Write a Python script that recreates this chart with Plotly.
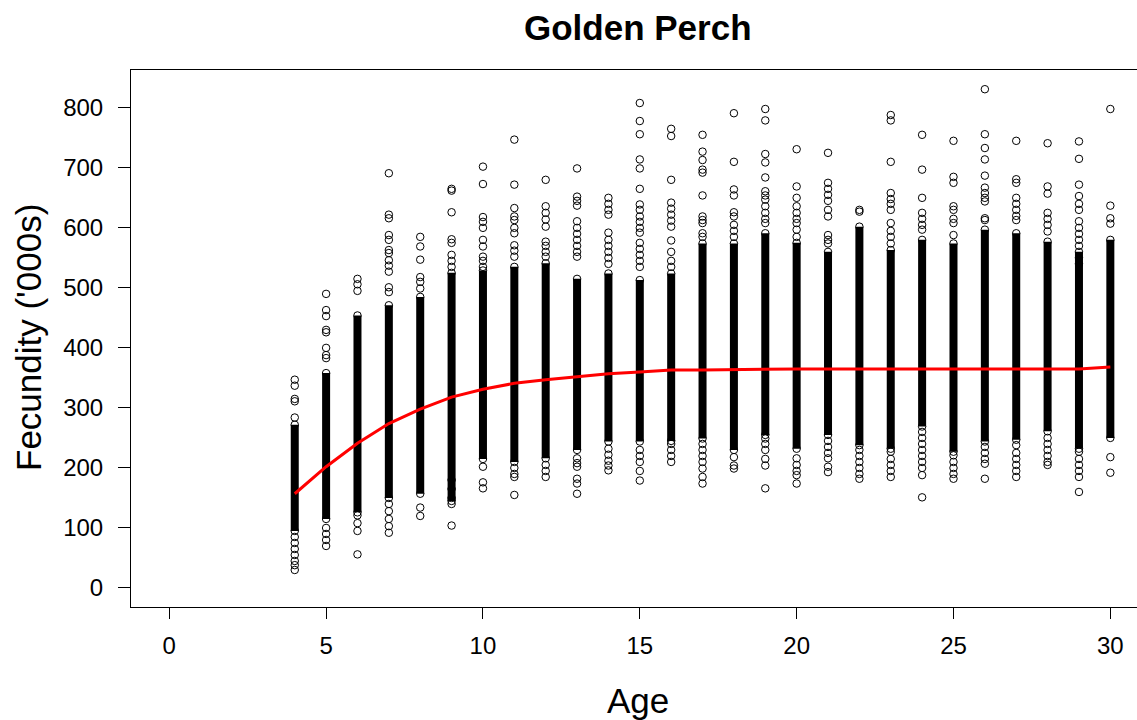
import plotly.graph_objects as go

ages = list(range(4, 31))

# dense (solid) part of each age column, fecundity ('000s)
band_lo = [95, 115, 126, 150, 157, 145, 215, 210, 216, 230, 244, 244, 245, 249,
           230, 255, 232, 255, 238, 232, 269, 227, 244, 247, 261, 232, 250]
band_hi = [272, 358, 454, 471, 485, 525, 529, 535, 541, 515, 524, 513, 524, 574,
           574, 591, 575, 560, 602, 563, 580, 574, 597, 591, 577, 560, 580]

# individually visible points for each age
points = {
    4: [347, 337, 315, 311, 284, 85, 75, 65, 55, 45, 38, 30],
    5: [490, 463, 453, 430, 426, 400, 388, 383, 100, 90, 80, 70],
    6: [515, 506, 495, 121, 108, 95, 56],
    7: [691, 622, 616, 588, 580, 563, 558, 546, 537, 527, 501, 493, 140, 128, 115, 103, 92],
    8: [585, 569, 547, 518, 510, 499, 134, 120],
    9: [665, 662, 626, 581, 575, 555, 545, 535, 180, 165, 150, 140, 104],
    10: [702, 673, 618, 610, 600, 580, 569, 552, 545, 535, 202, 176, 166],
    11: [747, 672, 633, 619, 613, 600, 591, 571, 562, 552, 200, 190, 185, 155],
    12: [680, 636, 625, 614, 602, 577, 570, 560, 552, 205, 195, 185],
    13: [699, 652, 645, 637, 611, 600, 590, 580, 570, 560, 552, 216, 208, 202, 182, 174, 157],
    14: [650, 640, 630, 622, 592, 580, 570, 560, 550, 540, 232, 222, 212, 204, 196],
    15: [808, 778, 756, 714, 699, 665, 639, 630, 619, 610, 600, 592, 575, 565, 555, 545, 535,
         230, 220, 210, 195, 179],
    16: [765, 753, 680, 642, 632, 622, 612, 602, 579, 560, 545, 535, 240, 230, 220, 210],
    17: [755, 727, 713, 697, 692, 654, 619, 613, 608, 591, 585, 240, 230, 220, 210, 199, 185, 174],
    18: [791, 710, 664, 654, 626, 619, 605, 595, 585, 218, 204, 199],
    19: [798, 779, 723, 709, 684, 661, 654, 647, 636, 625, 615, 608, 249, 240, 230, 215, 204, 166],
    20: [731, 669, 650, 636, 625, 615, 608, 597, 585, 216, 205, 195, 188, 174],
    21: [725, 675, 665, 655, 645, 630, 619, 588, 580, 574, 245, 235, 225, 216, 202, 193],
    22: [630, 627, 230, 220, 210, 200, 190, 182],
    23: [788, 779, 710, 658, 648, 640, 630, 608, 595, 585, 574, 227, 215, 205, 195, 185],
    24: [755, 697, 650, 625, 615, 605, 597, 260, 250, 240, 230, 220, 210, 200, 188, 151],
    25: [745, 685, 675, 636, 630, 615, 608, 588, 221, 210, 200, 190, 182],
    26: [831, 756, 733, 714, 687, 667, 658, 650, 644, 616, 613, 235, 225, 215, 207, 182],
    27: [745, 681, 675, 650, 640, 630, 620, 613, 238, 225, 215, 205, 195, 185],
    28: [741, 669, 657, 625, 615, 605, 594, 250, 240, 230, 220, 210, 205],
    29: [744, 715, 672, 653, 640, 630, 611, 600, 590, 580, 570, 550, 540, 227, 215, 205, 195, 185, 160],
    30: [798, 637, 616, 607, 218, 192],
}

# fitted mean fecundity curve
fit_ages = ages
fit_vals = [157, 202, 241, 274, 298, 318, 331, 341, 347, 352, 357, 360, 363, 363,
            364, 365, 365, 365, 365, 365, 365, 365, 365, 365, 365, 365, 368]

x_ticks = [0, 5, 10, 15, 20, 25, 30]
y_ticks = [0, 100, 200, 300, 400, 500, 600, 700, 800]

# build traces
bx, by = [], []
for a, lo, hi in zip(ages, band_lo, band_hi):
    bx += [a, a, None]
    by += [lo, hi, None]

px, py = [], []
for a, lo, hi in zip(ages, band_lo, band_hi):
    vals = points[a] + [lo, hi]
    px += [a] * len(vals)
    py += vals

fig = go.Figure()
fig.add_trace(go.Scatter(x=bx, y=by, mode="lines",
                         line=dict(color="black", width=8), hoverinfo="skip",
                         showlegend=False))
fig.add_trace(go.Scatter(x=px, y=py, mode="markers",
                         marker=dict(symbol="circle-open", size=7.5, color="black",
                                     line=dict(width=1, color="black")),
                         showlegend=False))
fig.add_trace(go.Scatter(x=fit_ages, y=fit_vals, mode="lines",
                         line=dict(color="#ff0000", width=3), showlegend=False))

font_family = "Liberation Sans, Arial, Helvetica, sans-serif"
L, R, T, B = 131, 0, 70, 113
W, H = 1137, 720
pw, ph = W - L - R, H - T - B

fig.update_layout(
    width=W, height=H,
    margin=dict(l=L, r=R, t=T, b=B),
    paper_bgcolor="white", plot_bgcolor="white",
    font=dict(family=font_family, color="black"),
    xaxis=dict(range=[-1.22, 30.85], tickvals=x_ticks, ticktext=[str(v) for v in x_ticks],
               showgrid=False, zeroline=False, showline=True, linecolor="black",
               linewidth=1, mirror=True, ticks="outside", ticklen=11, tickwidth=1,
               tickcolor="black", tickfont=dict(size=24, family=font_family),
               ticklabelstandoff=6),
    yaxis=dict(range=[-31.7, 863], tickvals=y_ticks, ticktext=[str(v) for v in y_ticks],
               showgrid=False, zeroline=False, showline=True, linecolor="black",
               linewidth=1, ticks="outside", ticklen=12, tickwidth=1,
               tickcolor="black", tickfont=dict(size=24, family=font_family),
               ticklabelstandoff=10),
    annotations=[
        dict(text="<b>Golden Perch</b>", xref="paper", yref="paper",
             x=(638 - L) / pw, y=(H - B - 28) / ph, xanchor="center", yanchor="middle",
             showarrow=False, font=dict(size=35, family=font_family, color="black")),
        dict(text="Age", xref="paper", yref="paper",
             x=(638 - L) / pw, y=(H - B - 700) / ph, xanchor="center", yanchor="middle",
             showarrow=False, font=dict(size=35, family=font_family, color="black")),
        dict(text="Fecundity ('000s)", xref="paper", yref="paper", textangle=-90,
             x=(28 - L) / pw, y=(H - B - 338) / ph, xanchor="center", yanchor="middle",
             showarrow=False, font=dict(size=35, family=font_family, color="black")),
    ],
)

fig.write_html("out.html")
